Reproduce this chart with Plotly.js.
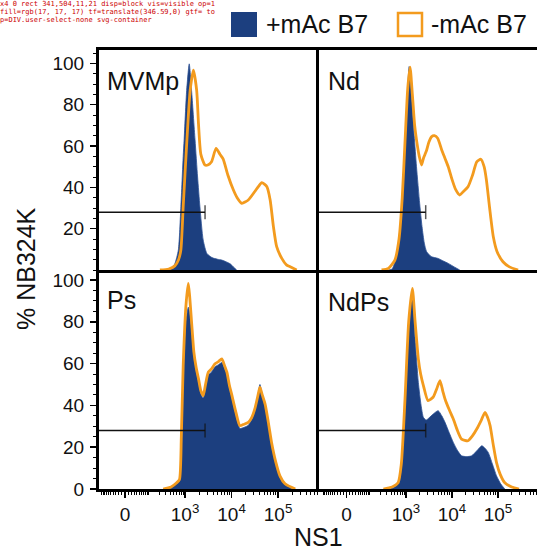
<!DOCTYPE html>
<html>
<head>
<meta charset="utf-8">
<script src="https://cdn.plot.ly/plotly-3.0.1.min.js"></script>
<style>html,body{margin:0;padding:0;background:#fff;}#chart{width:537px;height:552px;}#dbg{position:absolute;left:0;top:0;width:215px;font:7px monospace;color:#c00;white-space:pre-wrap;word-break:break-all;pointer-events:none;}</style>
</head>
<body>
<div id="chart"></div>
<div id="dbg"></div>
<script>
// ---- data (x in display units: 0 -> 1.71, 10^3 -> 3, 10^4 -> 4, 10^5 -> 5) ----
const panelNames = ["MVMp", "Nd", "Ps", "NdPs"];
const seriesNames = ["+mAc B7", "-mAc B7"];

const mvmpBlueX = [2.60,2.70,2.78,2.856,2.91,2.96,2.98,3.035,3.09,3.14,3.215,3.27,3.32,3.39,3.47,3.58,3.70,3.79,3.88,3.97,4.04,4.11];
const mvmpBlueY = [0,0.5,3,9.7,30.6,55,63,87,99.8,87,63,45,30.6,14.5,8,6,5.2,4.8,4,3,1.5,0];
const mvmpOrangeX = [2.46,2.65,2.78,2.86,2.91,2.96,3.04,3.11,3.18,3.25,3.29,3.34,3.43,3.50,3.57,3.667,3.75,3.82,3.92,4.04,4.12,4.22,4.36,4.50,4.58,4.65,4.76,4.83,4.90,4.97,5.08,5.18,5.26,5.40];
const mvmpOrangeY = [0,0.5,2,5,9.7,30.6,63,87,96.8,87,70.5,56,50.8,51,52.4,58.9,56,53.7,46,38.7,35,32.3,33.9,38,40.5,42.3,40.3,33.9,21,11.3,5.6,2.5,1.6,0];

const ndBlueX = [2.62,2.70,2.80,2.86,2.92,2.98,3.03,3.07,3.12,3.18,3.23,3.30,3.35,3.40,3.45,3.55,3.70,3.80,3.92,4.05,4.17];
const ndBlueY = [0,0.5,7,18,30.6,60,85,98.5,85,65,50,32,21,13,8.9,6.5,5.6,4.5,3.2,1.5,0];
const ndOrangeX = [2.47,2.62,2.76,2.85,2.92,2.98,3.04,3.09,3.14,3.19,3.23,3.29,3.34,3.38,3.41,3.45,3.50,3.56,3.62,3.69,3.78,3.85,3.92,4.00,4.08,4.17,4.25,4.35,4.45,4.54,4.63,4.70,4.75,4.82,4.90,4.98,5.11,5.25,5.44];
const ndOrangeY = [0,0.8,4.8,15,35,62,88,98.2,85,70,63,55,50.8,54,55.7,58,62,64.6,65,63.8,58,54,50,44,39,36.3,38,40.3,46,52.4,53.6,50,43.6,30,16.1,9,4,1.5,0];

const psBlueX = [2.60,2.72,2.84,2.89,2.93,2.97,3.02,3.07,3.10,3.14,3.19,3.24,3.29,3.34,3.39,3.44,3.50,3.57,3.645,3.72,3.79,3.85,3.90,3.95,4.00,4.09,4.18,4.27,4.36,4.43,4.50,4.56,4.61,4.66,4.72,4.79,4.86,4.95,5.04,5.15,5.33];
const psBlueY = [0,1,3,5,24,56,80,87,84,76,63,56,51,45.5,43.5,48.5,54.5,56,58.5,59.5,60.5,57.5,54.5,48.5,44,35.5,29,29.5,30.5,33,37.5,44,50,45,40,31,21,12,5.5,2,0];
const psOrangeX = [2.53,2.70,2.82,2.88,2.92,2.96,3.02,3.07,3.10,3.14,3.19,3.24,3.29,3.34,3.39,3.44,3.50,3.57,3.645,3.72,3.79,3.85,3.90,3.95,4.00,4.09,4.18,4.27,4.36,4.43,4.50,4.56,4.61,4.66,4.72,4.79,4.86,4.95,5.04,5.15,5.37];
const psOrangeY = [0,1,3,4.6,25,59,88,98.4,92,80,65.5,58,52.7,47,44.7,50,55.9,57.5,59.9,61,62.3,59,55.9,50,45.5,37,30.3,31,31.9,34,38.3,44,48.7,45,40.7,32,22.3,13,6.3,2.5,0];

const ndpsBlueX = [2.60,2.75,2.85,2.92,2.98,3.06,3.14,3.20,3.27,3.33,3.38,3.44,3.50,3.60,3.70,3.78,3.85,3.94,4.03,4.12,4.21,4.32,4.43,4.55,4.65,4.72,4.79,4.88,4.97,5.06,5.15];
const ndpsBlueY = [0,1,3,15,42,78,94,72,51,40,34.3,33,34,36,37.5,35,31.9,27,22.3,18.5,15.9,15.5,15.9,18.5,20.7,19.5,17.5,12,6.3,2.5,0];
const ndpsOrangeX = [2.51,2.70,2.83,2.90,2.98,3.06,3.14,3.20,3.27,3.32,3.38,3.48,3.59,3.67,3.74,3.80,3.85,3.94,4.03,4.12,4.21,4.35,4.45,4.54,4.64,4.72,4.78,4.83,4.90,4.97,5.05,5.15,5.30,5.46];
const ndpsOrangeY = [0,1,3,12,43,80,96,80,62.3,55,49.5,42.3,43.9,48,51.9,47,43.1,38,33.5,28,23.9,23.1,25.5,28.7,33,36.7,34,30.3,21,12.6,7,3,1,0];

const gateX = [0.5, 3.43];
const gateY = [28, 28];

const xTickVals = [1.71, 3, 4, 5];
const xTickText = ["0", "10<sup>3</sup>", "10<sup>4</sup>", "10<sup>5</sup>"];
const yTickValsTop = [20, 40, 60, 80, 100];
const yTickValsBottom = [0, 20, 40, 60, 80, 100];

// ---- styling ----
const BLUE = "#1c3f7f";
const ORANGE = "#f39b1e";
const W = 537, H = 552;
const px = x => x / W;
const py = y => (H - y) / H;

function u(v) {
  if (v >= 1000) return Math.log10(v);
  return 1.71 + 1.29 * Math.asinh(v / 50) / Math.asinh(1000 / 50);
}
const minorVals = [];
for (let d = 1; d <= 5; d++) {
  for (let k = 1; k <= 9; k++) {
    const v = k * Math.pow(10, d);
    if (v >= 1000 && k === 1) continue;
    minorVals.push(u(v));
    if (v <= 1000) minorVals.push(u(-v));
  }
}
minorVals.push(u(200000), u(300000), u(400000), u(500000), u(600000), u(700000));
minorVals.sort((a, b) => a - b);

const data = [
  [mvmpBlueX, mvmpBlueY, mvmpOrangeX, mvmpOrangeY],
  [ndBlueX, ndBlueY, ndOrangeX, ndOrangeY],
  [psBlueX, psBlueY, psOrangeX, psOrangeY],
  [ndpsBlueX, ndpsBlueY, ndpsOrangeX, ndpsOrangeY]
];

const FAM = "Liberation Sans, Arial, sans-serif";
const tickFont = {family: FAM, size: 19, color: "#111"};

const traces = [];
data.forEach((d, i) => {
  const xa = i === 0 ? "x" : "x" + (i + 1);
  const ya = i === 0 ? "y" : "y" + (i + 1);
  traces.push({
    x: d[0], y: d[1], xaxis: xa, yaxis: ya, type: "scatter", mode: "lines",
    name: seriesNames[0] + " " + panelNames[i], showlegend: false,
    fill: "tozeroy", fillcolor: BLUE, line: {color: "#2d5294", width: 0.8, shape: "spline", smoothing: 0.6},
    hoverinfo: "skip"
  });
  traces.push({
    x: d[2], y: d[3], xaxis: xa, yaxis: ya, type: "scatter", mode: "lines",
    name: seriesNames[1] + " " + panelNames[i], showlegend: false,
    line: {color: ORANGE, width: 2.8, shape: "spline", smoothing: 0.6},
    hoverinfo: "skip"
  });
  traces.push({
    x: gateX, y: gateY, xaxis: xa, yaxis: ya, type: "scatter", mode: "lines+markers",
    showlegend: false, name: "gate",
    line: {color: "#111", width: 1.5},
    marker: {symbol: "line-ns-open", size: [0, 10], line: {color: "#111", width: 1.5}},
    hoverinfo: "skip"
  });
});

const xd1 = [px(99), px(319)], xd2 = [px(319), 1];
const yd1 = [py(270), py(50)], yd2 = [py(489), py(270)];
const xr1 = [1.15, 5.88], xr2 = [1.11, 5.85];

const topX = (dom, range) => ({domain: dom, range: range, showline: true, linewidth: 3, linecolor: "#000",
  mirror: true, ticks: "", showticklabels: false, showgrid: false, zeroline: false, fixedrange: true});
const botX = (dom, range, tt) => ({domain: dom, range: range, showline: true, linewidth: 3, linecolor: "#000",
  ticks: "outside", ticklen: 6, tickwidth: 1.5, tickcolor: "#000",
  tickmode: "array", tickvals: xTickVals.slice(), ticktext: tt, tickfont: tickFont,
  minor: {tickmode: "array", tickvals: minorVals.slice(), ticklen: 3, tickwidth: 1, tickcolor: "#000", ticks: "outside"},
  showgrid: false, zeroline: false, fixedrange: true});
const leftY = (dom, range, tv) => ({domain: dom, range: range, showline: true, linewidth: 3, linecolor: "#000",
  ticks: "outside", ticklen: 6, tickwidth: 1.5, tickcolor: "#000", ticklabelstandoff: 2,
  tickmode: "array", tickvals: tv, tickfont: tickFont,
  minor: {dtick: 5, tick0: 0, ticklen: 3, tickwidth: 1, tickcolor: "#000", ticks: "outside"},
  showgrid: false, zeroline: false, fixedrange: true});
const rightY = (dom, range) => ({domain: dom, range: range, showline: true, linewidth: 3, linecolor: "#000",
  ticks: "", showticklabels: false, showgrid: false, zeroline: false, fixedrange: true});

const labFont = {family: FAM, size: 25, color: "#111"};
const ann = (text, x, y, font, extra) => Object.assign({text: text, x: px(x), y: py(y), xref: "paper", yref: "paper",
  xanchor: "left", yanchor: "middle", showarrow: false, font: font}, extra || {});
const annotations = [
  ann(panelNames[0], 105, 81, labFont),
  ann(panelNames[1], 326, 81, labFont),
  ann(panelNames[2], 105, 300, labFont),
  ann(panelNames[3], 326, 302, labFont),
  ann("% NB324K", 26, 269, {family: FAM, size: 25, color: "#111"}, {textangle: -90, xanchor: "center"}),
  ann("NS1", 318, 537, {family: FAM, size: 25, color: "#111"}, {xanchor: "center"}),
  ann(seriesNames[0], 264, 24, {family: FAM, size: 25, color: "#111"}),
  ann(seriesNames[1], 429, 24, {family: FAM, size: 25, color: "#111"})
];

const shapes = [
  {type: "rect", xref: "paper", yref: "paper", x0: px(231), x1: px(257), y0: py(37), y1: py(12), fillcolor: BLUE, line: {width: 0}},
  {type: "rect", xref: "paper", yref: "paper", x0: px(398), x1: px(422), y0: py(36), y1: py(13), fillcolor: "rgba(0,0,0,0)", line: {color: ORANGE, width: 2.5}}
];

const layout = {
  width: W, height: H, margin: {l: 0, r: 0, t: 0, b: 0},
  paper_bgcolor: "#fff", plot_bgcolor: "#fff", showlegend: false,
  xaxis: Object.assign(topX(xd1, xr1), {anchor: "y"}),
  xaxis2: Object.assign(topX(xd2, xr2), {anchor: "y2"}),
  xaxis3: Object.assign(botX(xd1, xr1, xTickText.slice()), {anchor: "y3"}),
  xaxis4: Object.assign(botX(xd2, xr2, xTickText.slice()), {anchor: "y4"}),
  yaxis: Object.assign(leftY(yd1, [0, 106.5], yTickValsTop), {anchor: "x"}),
  yaxis2: Object.assign(rightY(yd1, [0, 106.5]), {anchor: "x2"}),
  yaxis3: Object.assign(leftY(yd2, [0, 104.8], yTickValsBottom), {anchor: "x3"}),
  yaxis4: Object.assign(rightY(yd2, [0, 104.8]), {anchor: "x4"}),
  annotations: annotations, shapes: shapes
};

Plotly.newPlot("chart", traces, layout, {staticPlot: true, displayModeBar: false}).then(gd => {
  // diagnostic only if the lower-right "0" label is not the visible element at its spot
  const texts = Array.from(gd.querySelectorAll("g.x4tick text"));
  const zero = texts.find(t => t.textContent === "0");
  let msg = "";
  if (!zero) {
    msg = "x4 '0' missing; x4 texts=" + texts.map(t => t.textContent).join(",");
  } else {
    const r = zero.getBoundingClientRect();
    const cx = r.left + r.width / 2, cy = r.top + r.height / 2;
    const top = document.elementFromPoint(cx, cy);
    const cs = getComputedStyle(zero);
    const ok = r.width > 0 && cx > 330 && cx < 365 && cs.display !== "none" && cs.visibility !== "hidden" && +cs.opacity > 0;
    if (!ok || (top && top !== zero && !zero.contains(top))) {
      msg = "x4 0 rect " + [r.left, r.top, r.width, r.height].map(Math.round).join(",") +
        " disp=" + cs.display + " vis=" + cs.visibility + " op=" + cs.opacity + " fill=" + cs.fill +
        " tf=" + zero.getAttribute("transform") + " gtf=" + (zero.parentNode.getAttribute("transform") || "") +
        " top=" + (top ? top.tagName + "." + (top.getAttribute("class") || "") : "none");
    }
  }
  document.getElementById("dbg").textContent = msg;
});
</script>
</body>
</html>
